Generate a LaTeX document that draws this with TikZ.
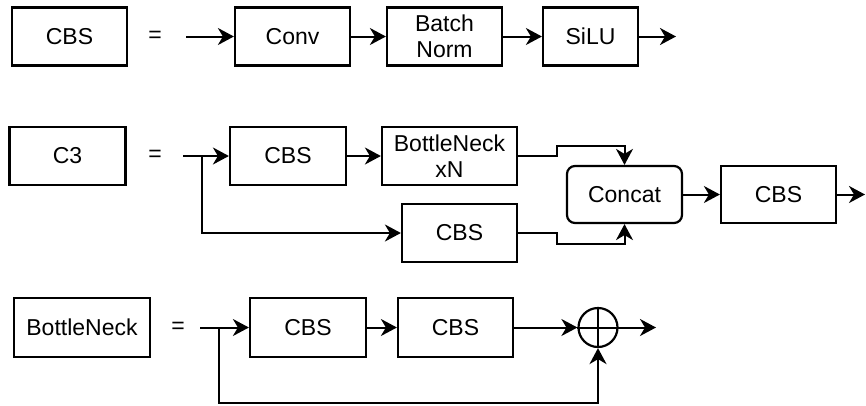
\documentclass[tikz,border=0pt]{standalone}
\usepackage{fontspec}
\setmainfont{Liberation Sans}
\usetikzlibrary{arrows.meta}
\begin{document}
\begin{tikzpicture}[x=1pt,y=-1pt,
  every node/.style={font=\fontsize{23}{26}\selectfont},
  blk/.style={draw,line width=2.2pt,minimum height=58pt,inner sep=0pt,align=center},
  rblk/.style={blk,rounded corners=8pt},
  eqsign/.style={inner sep=0pt},
  conn/.style={line width=2pt,-{Stealth[length=16pt,width=17pt,inset=5pt]}},
  plain/.style={line width=2pt},
  addc/.style={draw,circle,line width=2.2pt,minimum size=39pt,inner sep=0pt}]
\useasboundingbox (0,0) rectangle (866,405);
% Row 1
\node[blk,minimum width=115pt] (cbsA) at (69.5,36.5) {CBS};
\node[eqsign] (eq1) at (155,36.5) {=};
\coordinate (s1) at (186,36.5);
\node[blk,minimum width=115pt] (conv) at (292.5,36.5) {Conv};
\node[blk,minimum width=115pt] (bn) at (444.5,36.5) {Batch\\Norm};
\node[blk,minimum width=95pt] (silu) at (590.5,36.5) {SiLU};
\coordinate (e1) at (676,36.5);
\draw[conn] (s1) -- (conv);
\draw[conn] (conv) -- (bn);
\draw[conn] (bn) -- (silu);
\draw[conn] (silu) -- (e1);
% Row 2
\node[blk,minimum width=116pt] (c3) at (67.5,156) {C3};
\node[eqsign] (eq2) at (155,156) {=};
\coordinate (s2) at (183,156);
\coordinate (b2) at (202,156);
\node[blk,minimum width=116pt] (cbsB) at (288,156) {CBS};
\node[blk,minimum width=135pt] (bnx) at (449.5,156) {BottleNeck\\xN};
\node[blk,minimum width=115pt] (cbsC) at (459.5,233) {CBS};
\node[rblk,minimum width=115pt,minimum height=57pt] (concat) at (624.5,194.5) {Concat};
\node[blk,minimum width=115pt,minimum height=57pt] (cbsD) at (778.5,194.5) {CBS};
\coordinate (e2) at (865,194.5);
\draw[conn] (s2) -- (cbsB);
\draw[conn] (b2) |- (cbsC);
\draw[conn] (cbsB) -- (bnx);
\draw[conn] (bnx.east) -- ++(39,0) |- ([yshift=19pt]concat.north) -- (concat.north);
\draw[conn] (cbsC.east) -- ++(39,0) |- ([yshift=-20pt]concat.south) -- (concat.south);
\draw[conn] (concat) -- (cbsD);
\draw[conn] (cbsD) -- (e2);
% Row 3
\node[blk,minimum width=136pt,minimum height=59pt] (bneck) at (82,327.5) {BottleNeck};
\node[eqsign] (eq3) at (178,327.5) {=};
\coordinate (s3) at (200,327.5);
\coordinate (b3) at (219,327.5);
\node[blk,minimum width=116pt,minimum height=59pt] (cbsE) at (308,327.5) {CBS};
\node[blk,minimum width=115pt,minimum height=59pt] (cbsF) at (455.5,327.5) {CBS};
\node[addc] (add) at (598,327.5) {};
\draw[plain] (add.north) -- (add.south);
\draw[plain] (add.west) -- (add.east);
\coordinate (e3) at (656,327.5);
\coordinate (lp) at (219,403);
\draw[conn] (s3) -- (cbsE);
\draw[conn] (cbsE) -- (cbsF);
\draw[conn] (cbsF) -- (add);
\draw[conn] (add) -- (e3);
\draw[conn] (b3) -- (lp) -| (add.south);
\end{tikzpicture}
\end{document}
